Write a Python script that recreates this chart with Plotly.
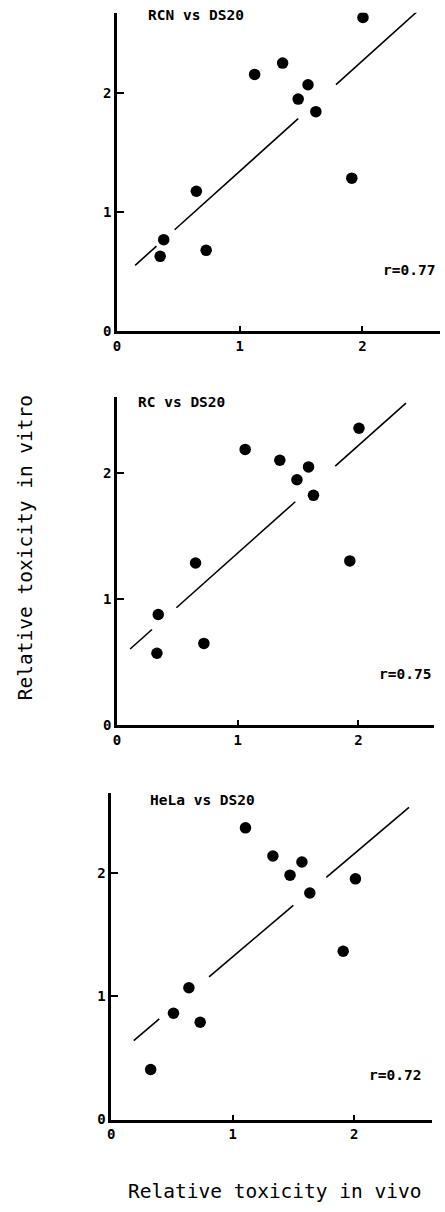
import plotly.graph_objects as go

# ---------------- data ----------------
panel_titles = ["RCN vs DS20", "RC vs DS20", "HeLa vs DS20"]
r_labels = ["r=0.77", "r=0.75", "r=0.72"]

rcn_x = [2.005, 1.350, 1.122, 1.557, 1.477, 1.621, 1.914, 0.647, 0.381, 0.352, 0.727]
rcn_y = [2.639, 2.255, 2.160, 2.073, 1.952, 1.846, 1.286, 1.176, 0.768, 0.627, 0.678]

rc_x = [2.005, 1.062, 1.349, 1.587, 1.491, 1.628, 1.929, 0.651, 0.342, 0.331, 0.720]
rc_y = [2.354, 2.186, 2.100, 2.047, 1.945, 1.822, 1.302, 1.286, 0.877, 0.570, 0.648]

hela_x = [1.105, 1.331, 1.570, 1.472, 1.635, 2.011, 1.910, 0.639, 0.512, 0.732, 0.324]
hela_y = [2.368, 2.140, 2.091, 1.984, 1.839, 1.954, 1.366, 1.070, 0.863, 0.790, 0.406]

# regression lines: slope, intercept, and the visible (broken) x-segments
fit_slope = [0.930, 0.853, 0.835]
fit_intercept = [0.414, 0.511, 0.487]
fit_segments = [
    [(0.148, 0.322), (0.470, 1.477), (1.785, 2.443)],
    [(0.109, 0.290), (0.492, 1.477), (1.808, 2.394)],
    [(0.185, 0.395), (0.805, 1.499), (1.771, 2.452)],
]

tick_vals = [0, 1, 2]
tick_text = ["0", "1", "2"]

xlabel = "Relative toxicity in vivo"
ylabel = "Relative toxicity in vitro"

# ---------------- layout geometry (pixels) ----------------
W, H = 445, 1212
# per panel: x0 px, x unit px, x max, y0 px (bottom), y unit px, y max
geom = [
    (114.0, 123.8, 2.63, 333.0, 119.5, 2.68),
    (114.0, 121.8, 2.63, 730.0, 127.0, 2.60),
    (108.3, 122.5, 2.64, 1127.0, 124.0, 2.65),
]
title_pos = [(0.646, 2.66), (0.534, 2.56), (0.749, 2.597)]
r_pos = [(2.383, 0.51), (2.39, 0.409), (2.337, 0.363)]

xs = [rcn_x, rc_x, hela_x]
ys = [rcn_y, rc_y, hela_y]

FONT = "DejaVu Sans Mono"

fig = go.Figure()
layout = dict(
    width=W, height=H,
    margin=dict(l=0, r=0, t=0, b=0),
    paper_bgcolor="white", plot_bgcolor="white",
    showlegend=False,
    font=dict(family=FONT, color="black", size=14),
)
annotations = []

for i in range(3):
    x0, xu, xmax, y0, yu, ymax = geom[i]
    sfx = "" if i == 0 else str(i + 1)
    xa, ya = "x" + sfx, "y" + sfx
    # points
    fig.add_trace(go.Scatter(
        x=xs[i], y=ys[i], mode="markers", xaxis=xa, yaxis=ya,
        marker=dict(size=11.5, color="black"), hoverinfo="skip"))
    # broken regression line
    lx, ly = [], []
    for (a, b) in fit_segments[i]:
        lx += [a, b, None]
        ly += [fit_slope[i] * a + fit_intercept[i], fit_slope[i] * b + fit_intercept[i], None]
    fig.add_trace(go.Scatter(
        x=lx, y=ly, mode="lines", xaxis=xa, yaxis=ya,
        line=dict(color="black", width=1.6), hoverinfo="skip"))

    xdom = [x0 / W, (x0 + xmax * xu) / W]
    ydom = [1 - y0 / H, 1 - (y0 - ymax * yu) / H]
    layout["xaxis" + sfx] = dict(
        domain=xdom, range=[0, xmax], anchor=ya,
        tickvals=tick_vals, ticktext=tick_text,
        ticks="inside", ticklen=5, tickwidth=1.5, tickcolor="black",
        showline=True, linewidth=3, linecolor="black",
        showgrid=False, zeroline=False,
        tickfont=dict(family=FONT, size=14, color="black", weight="bold"),
    )
    layout["yaxis" + sfx] = dict(
        domain=ydom, range=[0, ymax], anchor=xa,
        tickvals=tick_vals, ticktext=tick_text,
        ticks="inside", ticklen=7, tickwidth=1.5, tickcolor="black",
        showline=True, linewidth=2.5, linecolor="black",
        showgrid=False, zeroline=False,
        tickfont=dict(family=FONT, size=14, color="black", weight="bold"),
    )
    annotations.append(dict(
        x=title_pos[i][0], y=title_pos[i][1], xref=xa, yref=ya,
        text=panel_titles[i], showarrow=False, xanchor="center", yanchor="middle",
        font=dict(family=FONT, size=14.5, color="black", weight="bold")))
    annotations.append(dict(
        x=r_pos[i][0], y=r_pos[i][1], xref=xa, yref=ya,
        text=r_labels[i], showarrow=False, xanchor="center", yanchor="middle",
        font=dict(family=FONT, size=14.5, color="black", weight="bold")))

annotations.append(dict(
    x=22 / W, y=1 - 551 / H, xref="paper", yref="paper",
    text=ylabel, textangle=-90, showarrow=False,
    xanchor="center", yanchor="middle",
    font=dict(family=FONT, size=19.5, color="black")))
annotations.append(dict(
    x=273 / W, y=1 - 1199 / H, xref="paper", yref="paper",
    text=xlabel, showarrow=False, xanchor="center", yanchor="middle",
    font=dict(family=FONT, size=19.5, color="black")))

layout["annotations"] = annotations
fig.update_layout(**layout)
fig.write_html(
    "out.html",
    config={"displayModeBar": False},
    post_script="document.body.style.margin='0';document.body.style.overflow='hidden';",
)
